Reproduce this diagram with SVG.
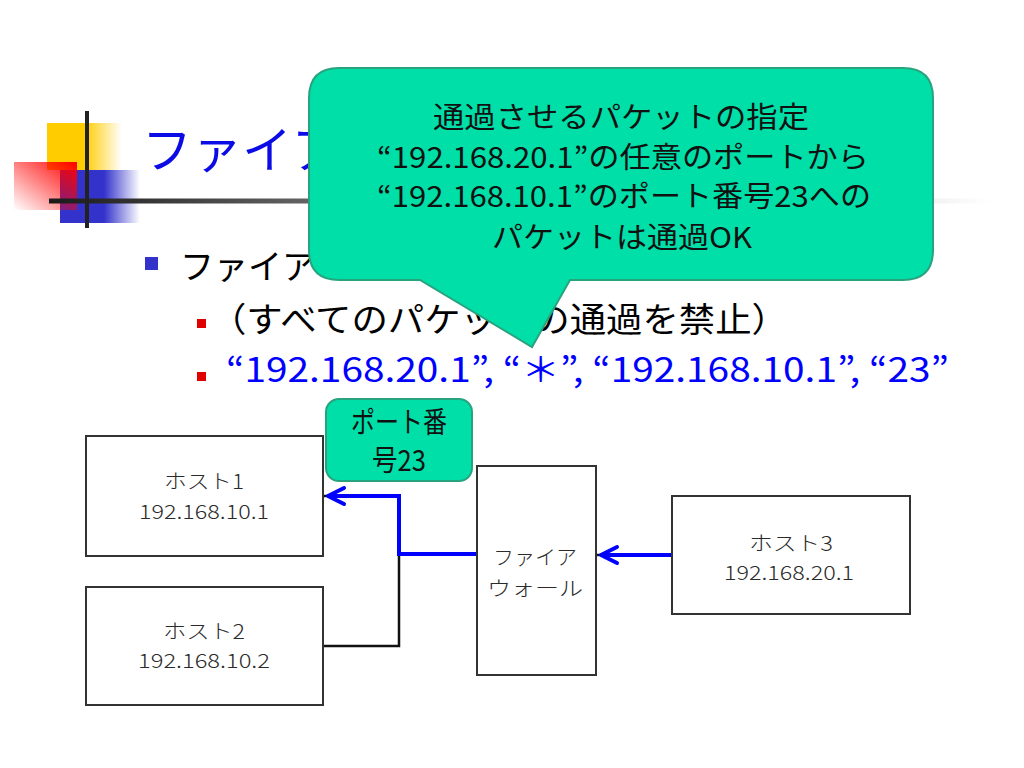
<svg xmlns="http://www.w3.org/2000/svg" width="1024" height="768" viewBox="0 0 1024 768">
<defs>
<linearGradient id="gY" x1="0" y1="0" x2="1" y2="0"><stop offset="0" stop-color="#FFCC00"/><stop offset="0.5" stop-color="#FFCC00"/><stop offset="1" stop-color="#FFCC00" stop-opacity="0"/></linearGradient>
<linearGradient id="gB" x1="0" y1="0" x2="1" y2="0"><stop offset="0" stop-color="#3333CC"/><stop offset="0.55" stop-color="#3333CC"/><stop offset="1" stop-color="#3333CC" stop-opacity="0"/></linearGradient>
<linearGradient id="gR" x1="1" y1="0" x2="0" y2="1"><stop offset="0" stop-color="#FF0000"/><stop offset="1" stop-color="#FF0000" stop-opacity="0"/></linearGradient>
<linearGradient id="gL" gradientUnits="userSpaceOnUse" x1="49" y1="0" x2="990" y2="0"><stop offset="0" stop-color="#1a1a1a"/><stop offset="0.3" stop-color="#6a6a6a"/><stop offset="1" stop-color="#ffffff"/></linearGradient>
<marker id="chevB" markerUnits="userSpaceOnUse" markerWidth="22" markerHeight="22" refX="19" refY="10" orient="auto" viewBox="0 0 22 20">
<path d="M 3 2 L 19 10 L 3 18" fill="none" stroke="#0000FF" stroke-width="4" stroke-linecap="round" stroke-linejoin="round"/>
</marker>
<style>
.node{fill:#fff;stroke:#333;stroke-width:2}
.nt{font-family:"Noto Sans CJK JP","Liberation Sans",sans-serif;font-size:20px;font-weight:300;fill:#2a2a2a;text-anchor:middle}
.call{fill:#00DFA8;stroke:#27A47E;stroke-width:2}
.ct{font-family:"Noto Sans CJK JP","Liberation Sans",sans-serif;font-size:29px;fill:#111;text-anchor:middle}
.body{font-family:"Noto Sans CJK JP","Liberation Sans",sans-serif;font-size:34px}
.blue{stroke:#0000FF;stroke-width:4;fill:none}
.blk{stroke:#111;stroke-width:2.5;fill:none}
</style>
</defs>
<rect width="1024" height="768" fill="#fff"/>
<g id="decoration">
<rect x="47" y="123" width="75" height="47" fill="url(#gY)"/>
<rect x="60" y="170" width="80" height="53" fill="url(#gB)"/>
<rect x="14" y="162" width="63" height="48" fill="url(#gR)"/>
<rect x="49" y="198.5" width="941" height="5" fill="url(#gL)"/>
<rect x="85" y="111" width="4" height="117" fill="#222"/>
</g>
<g id="title">
<text x="142" y="168" font-family="Noto Sans CJK JP, Liberation Sans, sans-serif" font-size="50" fill="#0B0BE6">ファイア</text>
</g>
<g id="bullets">
<rect x="145" y="257" width="13" height="13" fill="#3333CC"/>
<text class="body" x="180" y="279" fill="#000">ファイア</text>
<rect x="197" y="319" width="9" height="9" fill="#E00000"/>
<text class="body" x="210" y="332" fill="#000" textLength="578" lengthAdjust="spacingAndGlyphs">（すべてのパケットの通過を禁止）</text>
<rect x="197" y="372" width="9" height="9" fill="#E00000"/>
<text class="body" x="226" y="382" fill="#0000FF" textLength="723" lengthAdjust="spacingAndGlyphs">“192.168.20.1”, “＊”, “192.168.10.1”, “23”</text>
</g>
<g id="host1">
<rect class="node" x="86" y="436" width="237" height="120"/>
<text class="nt" x="204" y="489" textLength="80" lengthAdjust="spacingAndGlyphs">ホスト1</text>
<text class="nt" x="204" y="519" textLength="130" lengthAdjust="spacingAndGlyphs">192.168.10.1</text>
</g>
<g id="host2">
<rect class="node" x="86" y="587" width="237" height="118"/>
<text class="nt" x="204" y="639" textLength="82" lengthAdjust="spacingAndGlyphs">ホスト2</text>
<text class="nt" x="204" y="668" textLength="132" lengthAdjust="spacingAndGlyphs">192.168.10.2</text>
</g>
<g id="firewall">
<rect class="node" x="477" y="466" width="119" height="209"/>
<text class="nt" x="535" y="565" font-size="22" textLength="84" lengthAdjust="spacingAndGlyphs">ファイア</text>
<text class="nt" x="535" y="596" font-size="22" textLength="96" lengthAdjust="spacingAndGlyphs">ウォール</text>
</g>
<g id="host3">
<rect class="node" x="672" y="496" width="238" height="118"/>
<text class="nt" x="791" y="551" textLength="84" lengthAdjust="spacingAndGlyphs">ホスト3</text>
<text class="nt" x="789" y="580" textLength="130" lengthAdjust="spacingAndGlyphs">192.168.20.1</text>
</g>
<g id="connectors">
<path class="blk" d="M 399 554 V 646 H 324"/>
<path class="blk" d="M 324 496 H 332"/>
<path class="blk" d="M 597 555 H 608"/>
<path class="blue" d="M 476 554 H 399 V 496 H 328" marker-end="url(#chevB)"/>
<path class="blue" d="M 671 555 H 601" marker-end="url(#chevB)"/>
</g>
<g id="port-label">
<rect class="call" x="326" y="399" width="146" height="82" rx="13"/>
<text class="ct" x="399" y="433" font-size="21" textLength="96" lengthAdjust="spacingAndGlyphs">ポート番</text>
<text class="ct" x="399" y="471" font-size="21" textLength="54" lengthAdjust="spacingAndGlyphs">号23</text>
</g>
<g id="callout">
<path class="call" d="M 339 68 H 903 Q 933 68 933 98 V 250 Q 933 280 903 280 H 570 L 532 347 L 420 280 H 339 Q 309 280 309 250 V 98 Q 309 68 339 68 Z"/>
<text class="ct" x="621" y="128" textLength="376" lengthAdjust="spacingAndGlyphs">通過させるパケットの指定</text>
<text class="ct" x="623" y="168" textLength="492" lengthAdjust="spacingAndGlyphs">“192.168.20.1”の任意のポートから</text>
<text class="ct" x="624" y="207" textLength="494" lengthAdjust="spacingAndGlyphs">“192.168.10.1”のポート番号23への</text>
<text class="ct" x="622" y="248" textLength="260" lengthAdjust="spacingAndGlyphs">パケットは通過OK</text>
</g>
</svg>
